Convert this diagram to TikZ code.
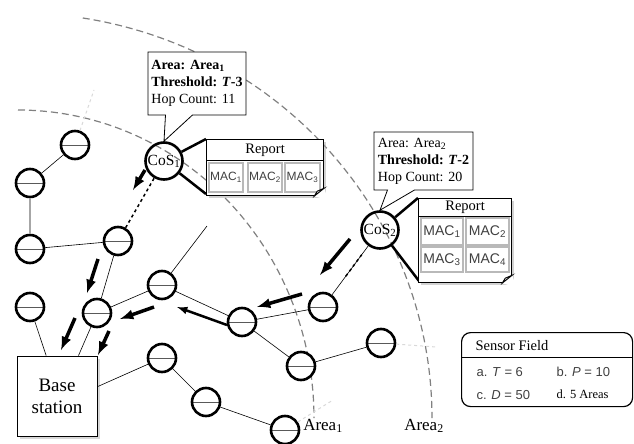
\documentclass[tikz,border=0pt]{standalone}
\usepackage{fontspec}
\setmainfont{Liberation Serif}
\setsansfont{Liberation Sans}
\usetikzlibrary{calc,positioning,shapes.callouts,shadows}

\begin{document}
\begin{tikzpicture}[x=1pt,y=-1pt]
  \tikzset{ s/.style={circle,draw,line width=2.6pt,fill=white,minimum size=28,inner sep=0pt,
      path picture={\draw[black!65,line width=1pt] (path picture bounding box.west) -- (path picture bounding box.east);}},
    cs/.style={circle,draw,line width=2.6pt,minimum size=37,inner sep=0pt,font=\fontsize{15.5}{17}\selectfont},
    link/.style={line width=0.6pt},
    flow/.style={-latex,line width=3.5pt},
    area/.style={gray,line width=1.2pt,dash pattern=on 7pt off 4pt},
    gridline/.style={gray!30,dashed,line width=1pt},
    info/.style={rectangle callout,draw,fill=white,line width=0.8pt,align=left,inner sep=2pt,
      callout pointer width=27,font=\fontsize{14}{17}\selectfont},
    rep/.style={draw,fill=white,line width=1.2pt,inner sep=0pt,
      drop shadow={shadow xshift=2pt,shadow yshift=-2pt,fill=gray!70}},
    rephead/.style={draw,line width=1.2pt,inner sep=0pt,font=\fontsize{14.5}{16}\selectfont},
    mac/.style={draw=gray!55,line width=1.2pt,inner sep=0pt,text=black!75,font=\sffamily\fontsize{12}{14}\selectfont},
    lens/.style={line width=2.5pt},
  }
  \useasboundingbox (0,0) rectangle (634,444);

  % area borders
  \draw[area] plot[domain=-90:0,samples=80] ({18+296*cos(\x)},{418+308*sin(\x)});
  \draw[area] plot[domain=-81:0,samples=80] ({18+414*cos(\x)},{418+405*sin(\x)});
  \node[font=\fontsize{17}{19}\selectfont] (a1) at (323,426) {Area\textsubscript{1}};
  \node[font=\fontsize{17}{19}\selectfont] (a2) at (424,426) {Area\textsubscript{2}};

  \node[s] (1) at (75,145) {};
  \node[s] (2) at (30,183) {};
  \node[s] (3) at (30,249) {};
  \node[s] (4) at (118,241) {};
  \node[s] (5) at (30,307) {};
  \node[s] (6) at (97,313) {};
  \node[s] (7) at (162,285) {};
  \node[s] (8) at (242,322) {};
  \node[s] (9) at (323,307) {};
  \node[s] (10) at (301,366) {};
  \node[s] (11) at (381,343) {};
  \node[s] (12) at (162,358) {};
  \node[s] (13) at (206,402) {};
  \node[s] (14) at (285,430) {};
  \node[cs] (cos1) at (164,161) {CoS\textsubscript{1}};
  \node[cs] (cos2) at (380,230) {CoS\textsubscript{2}};
  \node[draw,fill=white,line width=0.8pt,minimum size=80,align=center,font=\fontsize{19}{22}\selectfont,
    drop shadow={shadow xshift=2.5pt,shadow yshift=-2.5pt,fill=gray!60}] (base) at (57,396) {Base\\station};
  \coordinate (g1) at (94,90);
  \coordinate (g2) at (436,347);
  \coordinate (g3) at (333,400);
  \coordinate (7end) at (207,226);

  % the connection between the dots
  \draw[gridline] (1) -- (g1);
  \draw[gridline] (11) -- (g2);
  \draw[gridline] (14) -- (g3);
  \draw[link] (1) -- (2);
  \draw[gray!70,line width=1.5pt] (2) -- (3);
  \draw[link] (3) -- (4);
  \draw[line width=1.5pt,dashed] (4) -- (cos1);
  \draw[link] (4) -- (6);
  \draw[link] (5) -- (base.105);
  \draw[link] (6) -- (base.62);
  \draw[link] (6) -- (7);
  \draw[link] (7) -- (7end);
  \draw[link] (7) -- (8);
  \draw[link] (8) -- (9);
  \draw[link] (8) -- (10);
  \draw[link] (10) -- (11);
  \draw[link] (base.13) -- (12);
  \draw[link] (12) -- (13);
  \draw[link] (13) -- (14);
  \draw[link] (9) -- (cos2);
  \draw[line width=1.5pt,dashed] ($(9)!0.4!(cos2)$) -- ($(9)!0.68!(cos2)$);

  % report flow
  \draw[flow] (145,170) -- (133,190);
  \draw[flow] (98,259) -- (87,293);
  \draw[flow] (154,307) -- (120,319);
  \draw[flow] (75,318) -- (61,350);
  \draw[flow] (109,331) -- (98,355);
  \draw[flow,line width=2.5pt] (227,325) -- (177,307);
  \draw[flow] (302,294) -- (257,307);
  \draw[flow] (350,239) -- (320,275);

  % callouts
  \node[info,minimum width=98,minimum height=63,callout absolute pointer={(cos1.north)}] (i1) at (197,83.5)
    {\textbf{Area: Area\textsubscript{1}}\\\textbf{Threshold: \textit{T}-3}\\Hop Count: 11};
  \node[info,minimum width=99,minimum height=58,callout absolute pointer={(cos2.north)}] (i2) at (423.5,161)
    {Area: Area\textsubscript{2}\\\textbf{Threshold: \textit{T}-2}\\Hop Count: 20};

  % reports
  \draw[lens] (cos1) -- (206,139);
  \draw[lens] (cos1) -- (206,194);
  \node[rep,minimum width=117,minimum height=56,anchor=north west] (rep1) at (206,139) {};
  \node[rephead,minimum width=117,minimum height=21,anchor=north] (rep1t) at (rep1.north) {Report};
  \node[mac,minimum width=34,minimum height=29] (m11) at (226,177.5) {MAC\textsubscript{1}};
  \node[mac,minimum width=34,minimum height=29] (m12) at (265,177.5) {MAC\textsubscript{2}};
  \node[mac,minimum width=35,minimum height=29] (m13) at (302.5,177.5) {MAC\textsubscript{3}};
  \fill[white] ([xshift=-10]rep1.south east) -- ([xshift=4,yshift=-4]rep1.south east) -- ([yshift=8]rep1.south east) -- cycle;
  \draw[line width=0.9pt,fill=gray!15] ([xshift=-10]rep1.south east) -- ([yshift=8]rep1.south east) -- ([xshift=-7,yshift=5]rep1.south east) -- cycle;

  \draw[lens] (cos2) -- (418,198);
  \draw[lens] (cos2) -- (419,281);
  \node[rep,minimum width=93,minimum height=84,anchor=north west] (rep2) at (418,198) {};
  \node[rephead,minimum width=93,minimum height=18,anchor=north] (rep2t) at (rep2.north) {Report};
  \node[mac,minimum width=42,minimum height=27,font=\sffamily\fontsize{14}{16}\selectfont] (m21) at (442,231.5) {MAC\textsubscript{1}};
  \node[mac,minimum width=43,minimum height=27,font=\sffamily\fontsize{14}{16}\selectfont] (m22) at (487.5,231.5) {MAC\textsubscript{2}};
  \node[mac,minimum width=42,minimum height=25,font=\sffamily\fontsize{14}{16}\selectfont] (m23) at (442,259.5) {MAC\textsubscript{3}};
  \node[mac,minimum width=43,minimum height=25,font=\sffamily\fontsize{14}{16}\selectfont] (m24) at (487.5,259.5) {MAC\textsubscript{4}};
  \fill[white] ([xshift=-10]rep2.south east) -- ([xshift=4,yshift=-4]rep2.south east) -- ([yshift=8]rep2.south east) -- cycle;
  \draw[line width=0.9pt,fill=gray!15] ([xshift=-10]rep2.south east) -- ([yshift=8]rep2.south east) -- ([xshift=-7,yshift=5]rep2.south east) -- cycle;

  % sensor field
  \node[draw,rounded corners=9,line width=1.2pt,minimum width=171,minimum height=74,anchor=north west] (field) at (461,332) {};
  \coordinate (fh) at (461,357);
  \draw[line width=1pt] (field.west |- fh) -- (field.east |- fh);
  \node[anchor=west,font=\fontsize{14.5}{16}\selectfont] (ft) at (472,346) {Sensor Field};
  \node[anchor=west,text=black!75,font=\sffamily\fontsize{13}{15}\selectfont] (fa) at (473,372) {a. \textit{T} = 6};
  \node[anchor=west,text=black!75,font=\sffamily\fontsize{13}{15}\selectfont] (fb) at (553,372) {b. \textit{P} = 10};
  \node[anchor=west,text=black!75,font=\sffamily\fontsize{13}{15}\selectfont] (fc) at (473,395) {c. \textit{D} = 50};
  \node[anchor=west,font=\fontsize{12.5}{14}\selectfont] (fd) at (553,394) {d. 5 Areas};
\end{tikzpicture}
\end{document}
